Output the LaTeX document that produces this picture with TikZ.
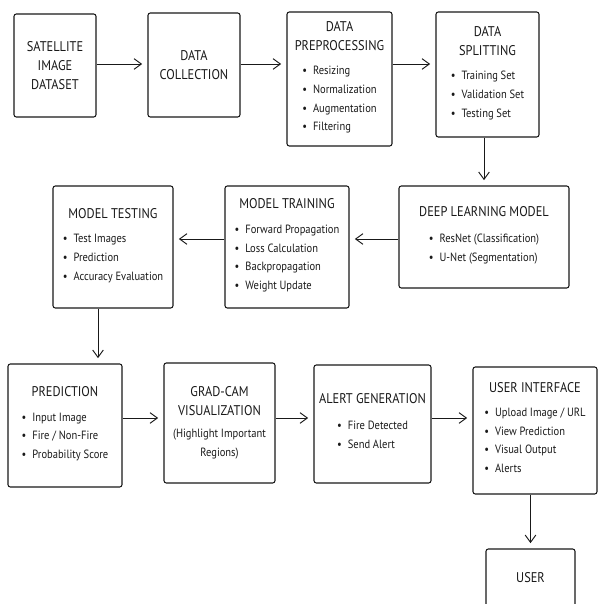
\documentclass[tikz,border=0pt]{standalone}
\usepackage{fontspec}
\setmainfont[FakeStretch=0.88]{PT Sans}
\usetikzlibrary{arrows.meta,calc}
\definecolor{ink}{RGB}{25,25,25}
\newcommand\ttlfont{\fontsize{12}{19}\selectfont}
\newcommand\itmfont{\fontsize{10.2}{16}\selectfont}
\newcommand\ttl[1]{{\ttlfont #1}}
\newcommand\blist[1]{\begin{tabular}[t]{@{}l@{}}#1\end{tabular}}
\newcommand\bul{\textbullet\enspace}
\tikzset{
  >={Straight Barb[length=2.2mm,width=3.2mm]},
  stage/.style 2 args={draw=ink,line width=0.9pt,rounded corners=2pt,align=center,
    text=ink,font=\itmfont,inner sep=2pt,minimum width=#1*0.3mm,minimum height=#2*0.3mm},
  flow/.style={->,line width=0.8pt,draw=ink,shorten >=1.6mm},
}
\begin{document}
\begin{tikzpicture}[x=0.3mm,y=-0.3mm]
  \useasboundingbox (0,0) rectangle (598,604);
  % row 1
  \node[stage={82}{103}] (sat) at (55,65.5) {\ttl{SATELLITE}\\\ttl{IMAGE}\\\ttl{DATASET}};
  \node[stage={92}{104}] (coll) at (194,65) {\ttl{DATA}\\\ttl{COLLECTION}};
  \node[stage={105}{134}] (prep) at (339.5,79) {\ttl{DATA}\\\ttl{PREPROCESSING}\\[5pt]
    \blist{\bul Resizing\\\bul Normalization\\\bul Augmentation\\\bul Filtering}};
  \node[stage={103}{125}] (split) at (487.5,74.5) {\ttl{DATA}\\\ttl{SPLITTING}\\[5pt]
    \blist{\bul Training Set\\\bul Validation Set\\\bul Testing Set}};
  % row 2
  \node[stage={170}{102}] (dl) at (484,237) {\ttl{DEEP LEARNING MODEL}\\[6pt]
    \blist{\bul ResNet (Classification)\\\bul U-Net (Segmentation)}};
  \node[stage={124}{122}] (train) at (287,247) {\ttl{MODEL TRAINING}\\[5pt]
    \blist{\bul Forward Propagation\\\bul Loss Calculation\\\bul Backpropagation\\\bul Weight Update}};
  \node[stage={120}{122}] (test) at (113,247) {\ttl{MODEL TESTING}\\[5pt]
    \blist{\bul Test Images\\\bul Prediction\\\bul Accuracy Evaluation}};
  % row 3
  \node[stage={114}{123}] (pred) at (65,425.5) {\ttl{PREDICTION}\\[5pt]
    \blist{\bul Input Image\\\bul Fire / Non-Fire\\\bul Probability Score}};
  \node[stage={111}{120}] (grad) at (219.5,423) {\ttl{GRAD-CAM}\\\ttl{VISUALIZATION}\\[3pt]
    (Highlight Important\\Regions)};
  \node[stage={117}{118}] (alert) at (372.5,424) {\ttl{ALERT GENERATION}\\[6pt]
    \blist{\bul Fire Detected\\\bul Send Alert}};
  \node[stage={124}{127}] (ui) at (535,430.5) {\ttl{USER INTERFACE}\\[4pt]
    \blist{\bul Upload Image / URL\\\bul View Prediction\\\bul Visual Output\\\bul Alerts}};
  \node[stage={89}{58}] (user) at (530.5,578) {\ttl{USER}};
  % connectors
  \coordinate (r1) at (0,64);
  \coordinate (r2) at (0,239);
  \coordinate (r3) at (0,418);
  \draw[flow] (sat.east |- r1) -- (coll.west |- r1);
  \draw[flow] (coll.east |- r1) -- (prep.west |- r1);
  \draw[flow] (prep.east |- r1) -- (split.west |- r1);
  \draw[flow] (split.south -| dl.north) -- (dl.north);
  \draw[flow] (dl.west |- r2) -- (train.east |- r2);
  \draw[flow] (train.west |- r2) -- (test.east |- r2);
  \draw[flow] ([xshift=-4.5mm]test.south) -- ([xshift=-4.5mm]test.south |- pred.north);
  \draw[flow] (pred.east |- r3) -- (grad.west |- r3);
  \draw[flow] (grad.east |- r3) -- (alert.west |- r3);
  \draw[flow] (alert.east |- r3) -- (ui.west |- r3);
  \draw[flow] (ui.south -| user.north) -- (user.north);
\end{tikzpicture}
\end{document}
